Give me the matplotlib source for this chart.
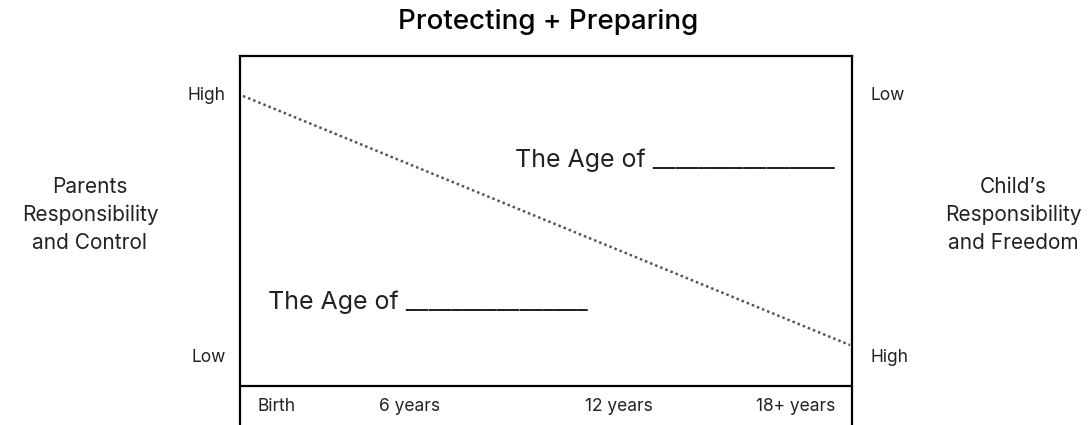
import matplotlib.pyplot as plt

# data
ages = [0, 18]
parent_level = [1.0, 0.046]
age_labels = ["Birth", "6 years", "12 years", "18+ years"]
age_label_pos = [1.0, 4.95, 11.15, 16.4]
left_levels = ["High", "Low"]
right_levels = ["Low", "High"]
level_pos = [1.0, 0.0]

plt.rcParams['font.family'] = ['Inter', 'DejaVu Sans']
txt = '#222222'

fig = plt.figure(figsize=(10.91, 4.25), dpi=100)
ax = fig.add_axes([240 / 1091, 0, 612 / 1091, 1 - 56 / 425])

ax.plot(ages, parent_level, color='#555555', lw=1.8, linestyle=(0, (1, 1.2)))

ax.set_xlim(-0.089, 18.06)
ax.set_ylim(-0.26, 1.153)
ax.axhline(-0.111, color='black', lw=1.6)
for side in ['left', 'right', 'top']:
    ax.spines[side].set_linewidth(1.6)
ax.spines['bottom'].set_visible(False)
ax.set_xticks([])
ax.set_yticks([])

# age labels in the bottom band
for lab, x in zip(age_labels, age_label_pos):
    ax.text(x, -0.19, lab, ha='center', va='center', fontsize=12.5, color=txt)

# high / low markers
trans = ax.get_yaxis_transform()
for lab, y in zip(left_levels, level_pos):
    ax.text(-0.023, y, lab, transform=trans, ha='right', va='center', fontsize=12.5, color=txt)
for lab, y in zip(right_levels, level_pos):
    ax.text(1.031, y, lab, transform=trans, ha='left', va='center', fontsize=12.5, color=txt)

ax.text(8.07, 0.755, "The Age of ________________", ha='left', va='center', fontsize=18, color=txt)
ax.text(0.74, 0.211, "The Age of ________________", ha='left', va='center', fontsize=18, color=txt)

fig.text(90 / 1091, 0.494, "Parents\nResponsibility\nand Control", ha='center', va='center',
         fontsize=15, color=txt, linespacing=1.45)
fig.text(1013 / 1091, 0.494, "Child\u2019s\nResponsibility\nand Freedom", ha='center', va='center',
         fontsize=15, color=txt, linespacing=1.45)

fig.text(0.502, 0.948, "Protecting + Preparing", ha='center', va='center',
         fontsize=20, fontweight='medium', color='black')

fig.savefig('out.png', dpi=100)
